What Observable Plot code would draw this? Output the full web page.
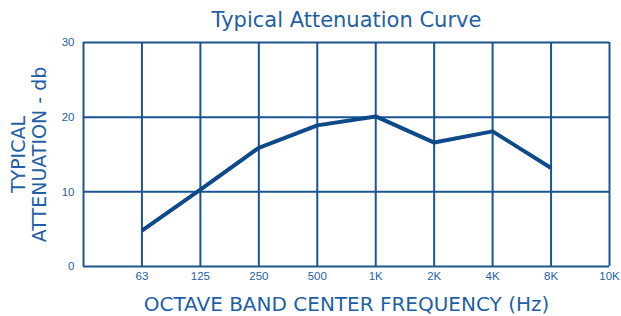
<!DOCTYPE html>
<html>
<head>
<meta charset="utf-8">
<script src="https://cdn.jsdelivr.net/npm/d3@7"></script>
<script src="https://cdn.jsdelivr.net/npm/@observablehq/plot@0.6"></script>
<style>
  body { margin: 0; background: #fff; }
  svg { display: block; }
</style>
</head>
<body>
<div id="chart"></div>
<script>
const bands = ["63", "125", "250", "500", "1K", "2K", "4K", "8K", "10K"];
const attenuation = [4.8, 10.3, 15.9, 18.9, 20.1, 16.6, 18.1, 13.2];
const yTicks = [0, 10, 20, 30];
const titleText = "Typical Attenuation Curve";
const xTitle = "OCTAVE BAND CENTER FREQUENCY (Hz)";
const yTitle = "TYPICAL\nATTENUATION - db";

const data = attenuation.map((v, i) => ({pos: i + 1, band: bands[i], value: v}));
const xPositions = d3.range(0, bands.length + 1);
const tickPositions = bands.map((b, i) => i + 1);

const lineColor = "#0c4a8a";
const gridColor = "#1a5592";
const textColor = "#1f5fa6";

const chart = Plot.plot({
  width: 621,
  height: 316,
  marginTop: 42,
  marginBottom: 50,
  marginLeft: 83,
  marginRight: 12,
  style: {fontFamily: "Liberation Sans, Arial, sans-serif", color: textColor, background: "#fff"},
  x: {domain: [0, bands.length], type: "linear"},
  y: {domain: [0, 30]},
  marks: [
    Plot.ruleX(xPositions, {stroke: gridColor, strokeWidth: 2}),
    Plot.ruleY(yTicks, {stroke: gridColor, strokeWidth: 2}),
    Plot.axisX(tickPositions, {
      tickFormat: d => bands[d - 1], tickSize: 0, tickPadding: 5,
      fontSize: 11.5, fill: textColor, label: null
    }),
    Plot.axisY(yTicks, {
      tickSize: 0, tickPadding: 9, fontSize: 11.5, fill: textColor, label: null
    }),
    Plot.line(data, {x: "pos", y: "value", stroke: lineColor, strokeWidth: 4, strokeLinejoin: "miter", strokeLinecap: "butt"}),
    Plot.text([titleText], {
      frameAnchor: "top", dy: -22, fontSize: 21, fill: textColor,
      fontFamily: "DejaVu Sans", lineAnchor: "middle"
    }),
    Plot.text([xTitle], {
      frameAnchor: "bottom", dy: 38, fontSize: 20, fill: textColor,
      fontFamily: "DejaVu Sans", lineAnchor: "middle"
    }),
    Plot.text([yTitle], {
      frameAnchor: "left", dx: -55, rotate: -90, fontSize: 19, fill: textColor,
      fontFamily: "DejaVu Sans", textAnchor: "middle", lineAnchor: "middle", lineHeight: 1.1
    })
  ]
});
document.getElementById("chart").append(chart);
</script>
</body>
</html>
